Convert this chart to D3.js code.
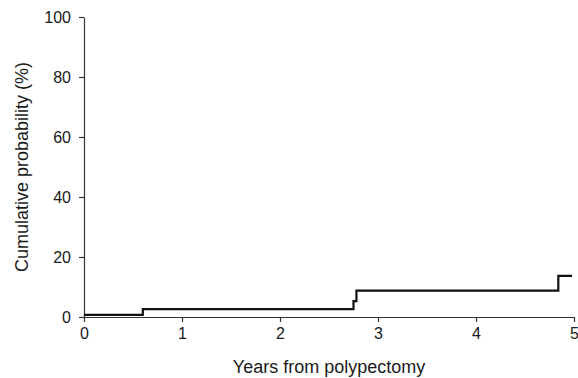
<!DOCTYPE html>
<html>
<head>
<meta charset="utf-8">
<script src="https://cdn.jsdelivr.net/npm/d3@7"></script>
<style>
  body { margin: 0; background: #fff; }
  text { font-family: "Liberation Sans", Arial, sans-serif; fill: #1a1a1a; }
</style>
</head>
<body>
<svg id="chart"></svg>
<script>
// step times (years) and cumulative probability (%) after each step
const stepYears = [0, 0.6, 2.75, 2.78, 4.84, 4.98];
const stepProb = [0.7, 2.6, 5.3, 8.8, 13.7, 13.7];
const xTicks = [0, 1, 2, 3, 4, 5];
const yTicks = [0, 20, 40, 60, 80, 100];

const width = 578;
const height = 378;
const margin = { top: 17, right: 4, bottom: 61, left: 84 };

const svg = d3.select("#chart")
  .attr("width", width)
  .attr("height", height);

const x = d3.scaleLinear()
  .domain([0, 5])
  .range([margin.left, width - margin.right]);

const y = d3.scaleLinear()
  .domain([0, 100])
  .range([height - margin.bottom, margin.top]);

// axes
const xAxis = svg.append("g")
  .attr("transform", `translate(0,${y(0)})`)
  .call(d3.axisBottom(x).tickValues(xTicks).tickFormat(d3.format("d"))
    .tickSize(5).tickSizeOuter(0).tickPadding(6));

const yAxis = svg.append("g")
  .attr("transform", `translate(${x(0)},0)`)
  .call(d3.axisLeft(y).tickValues(yTicks).tickFormat(d3.format("d"))
    .tickSize(5).tickSizeOuter(0).tickPadding(8));

[xAxis, yAxis].forEach(a => {
  a.select(".domain").attr("stroke", "#333").attr("stroke-width", 1.2);
  a.selectAll(".tick line").attr("stroke", "#333").attr("stroke-width", 1.2);
  a.selectAll(".tick text")
    .style("font-size", "16px")
    .style("font-family", "'Liberation Sans', Arial, sans-serif")
    .attr("fill", "#1a1a1a");
});

// step line
const pts = stepYears.map((t, i) => [t, stepProb[i]]);
const line = d3.line()
  .x(d => x(d[0]))
  .y(d => y(d[1]))
  .curve(d3.curveStepAfter);

svg.append("path")
  .datum(pts)
  .attr("fill", "none")
  .attr("stroke", "#111")
  .attr("stroke-width", 2.2)
  .attr("d", line);

// axis titles
svg.append("text")
  .attr("x", (x(0) + x(5)) / 2)
  .attr("y", 373)
  .attr("text-anchor", "middle")
  .style("font-size", "18px")
  .text("Years from polypectomy");

svg.append("text")
  .attr("transform", `translate(28,${y(50)}) rotate(-90)`)
  .attr("text-anchor", "middle")
  .style("font-size", "18px")
  .text("Cumulative probability (%)");
</script>
</body>
</html>
